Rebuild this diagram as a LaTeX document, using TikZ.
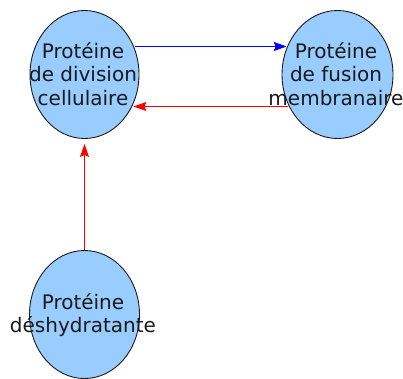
\documentclass[tikz,border=0pt]{standalone}
\usepackage{fontspec}
\setmainfont{DejaVu Sans}
\usetikzlibrary{shapes.geometric,arrows.meta}
\definecolor{bubble}{RGB}{153,204,255}
\definecolor{ink}{RGB}{26,26,26}
\tikzset{
  protein/.style={ellipse, draw=ink, line width=0.9pt, fill=bubble, inner sep=0pt,
    minimum width=110pt, minimum height=128pt},
  plabel/.style={align=center, text=ink, inner sep=0pt,
    font=\fontsize{20}{23.5}\selectfont},
  link/.style={line width=1.1pt, -{Stealth[length=13pt,width=9pt,inset=2pt]}}
}
\begin{document}
\begin{tikzpicture}[x=1pt,y=-1pt]
\useasboundingbox (0,0) rectangle (403,378);
\node[protein, minimum width=109pt] (e1) at (84.5,74.5) {};
\node[protein, minimum width=111pt] (e2) at (337.5,74.5) {};
\node[protein] (e3) at (84.5,314.5) {};
\node[plabel] (t1) at (83,74) {Protéine\\de division\\cellulaire};
\node[plabel] (t2) at (336,74) {Protéine\\de fusion\\membranaire};
\node[plabel] (t3) at (83,315) {Protéine\\déshydratante};
\coordinate (upper) at (0,46.5);
\coordinate (lower) at (0,106.5);
\draw[link, blue] (e1.28 |- upper) -- (e2.152 |- upper);
\draw[link, red] (e2.212 |- lower) -- (e1.329 |- lower);
\draw[link, red] (e3.north) -- ([yshift=-5pt]e1.south);
\end{tikzpicture}
\end{document}
